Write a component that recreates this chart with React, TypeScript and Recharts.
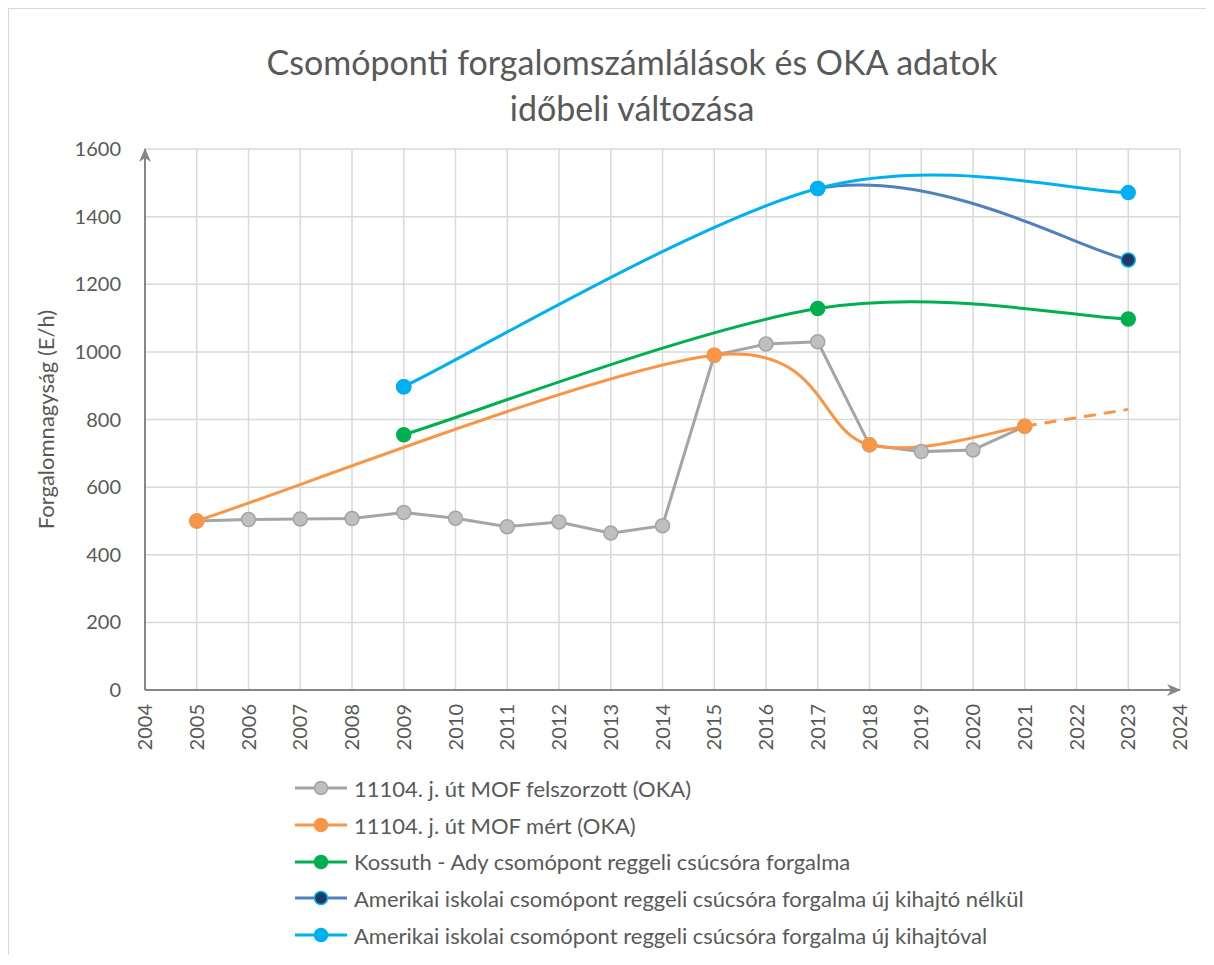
import { LineChart, Line, XAxis, YAxis, CartesianGrid, Legend } from 'recharts';

const FONT = "Lato, 'Open Sans', sans-serif";
const TEXT = '#595959';
const AXIS = '#868686';

// ---- data ----
const years = [2005, 2006, 2007, 2008, 2009, 2010, 2011, 2012, 2013, 2014, 2015, 2016, 2017, 2018, 2019, 2020, 2021, 2022, 2023];
const mofFelszorzott = [500, 504, 506, 507, 525, 508, 483, 497, 464, 486, 990, 1023, 1030, 725, 705, 710, 780, null, null];
const mofMert = [500, null, null, null, null, null, null, null, null, null, 990, null, null, 725, null, null, 780, null, null];
const mofMertTrend = [null, null, null, null, null, null, null, null, null, null, null, null, null, null, null, null, 780, null, 830];
const kossuthAdy = [null, null, null, null, 755, null, null, null, null, null, null, null, 1128, null, null, null, null, null, 1097];
const amerikaiNelkul = [null, null, null, null, 897, null, null, null, null, null, null, null, 1483, null, null, null, null, null, 1272];
const amerikaiVal = [null, null, null, null, 897, null, null, null, null, null, null, null, 1483, null, null, null, null, null, 1471];

const xTicks = [2004, 2005, 2006, 2007, 2008, 2009, 2010, 2011, 2012, 2013, 2014, 2015, 2016, 2017, 2018, 2019, 2020, 2021, 2022, 2023, 2024];
const yTicks = [0, 200, 400, 600, 800, 1000, 1200, 1400, 1600];

const data = years.map((year, i) => ({
  year,
  felszorzott: mofFelszorzott[i],
  mert: mofMert[i],
  mertTrend: mofMertTrend[i],
  kossuth: kossuthAdy[i],
  nelkul: amerikaiNelkul[i],
  kihajtoval: amerikaiVal[i],
}));

// Excel-like smoothed line (Catmull-Rom with 1/6 control points)
function excelSmooth(skipFirst: boolean) {
  return (context: any) => {
    let pts: number[][] = [];
    return {
      areaStart() {},
      areaEnd() {},
      lineStart() { pts = []; },
      point(x: number, y: number) { pts.push([+x, +y]); },
      lineEnd() {
        const n = pts.length;
        if (!n) return;
        const from = skipFirst && n > 2 ? 1 : 0;
        context.moveTo(pts[from][0], pts[from][1]);
        for (let i = from; i < n - 1; i++) {
          const p0 = pts[Math.max(i - 1, 0)];
          const p1 = pts[i];
          const p2 = pts[i + 1];
          const p3 = pts[Math.min(i + 2, n - 1)];
          context.bezierCurveTo(
            p1[0] + (p2[0] - p0[0]) / 6, p1[1] + (p2[1] - p0[1]) / 6,
            p2[0] - (p3[0] - p1[0]) / 6, p2[1] - (p3[1] - p1[1]) / 6,
            p2[0], p2[1]
          );
        }
      },
    };
  };
}

const series = [
  { key: 'felszorzott', name: '11104. j. út MOF felszorzott (OKA)', color: '#A5A5A5', dotFill: '#BFBFBF', dotStroke: '#A5A5A5' },
  { key: 'mert', name: '11104. j. út MOF mért (OKA)', color: '#F79646', dotFill: '#F79646', dotStroke: '#F79646' },
  { key: 'kossuth', name: 'Kossuth - Ady csomópont reggeli csúcsóra forgalma', color: '#00B050', dotFill: '#00B050', dotStroke: '#00B050' },
  { key: 'nelkul', name: 'Amerikai iskolai csomópont reggeli csúcsóra forgalma új kihajtó nélkül', color: '#4F81BD', dotFill: '#203864', dotStroke: '#00B0F0' },
  { key: 'kihajtoval', name: 'Amerikai iskolai csomópont reggeli csúcsóra forgalma új kihajtóval', color: '#00B0F0', dotFill: '#00B0F0', dotStroke: '#00B0F0' },
];

const YearTick = ({ x, y, payload }: any) => (
  <text x={x} y={y} dy="0.35em" textAnchor="end" transform={`rotate(-90 ${x} ${y})`}
    fill={TEXT} fontSize={20} fontFamily={FONT}>
    {payload.value}
  </text>
);

const YLabel = ({ viewBox }: any) => {
  const cx = viewBox.x - 39;
  const cy = viewBox.y + viewBox.height / 2;
  return (
    <text x={cx} y={cy} dy="0.35em" textAnchor="middle" transform={`rotate(-90 ${cx} ${cy})`}
      fill={TEXT} fontSize={22} fontFamily={FONT}>
      Forgalomnagyság (E/h)
    </text>
  );
};

const LegendContent = () => (
  <div style={{ fontFamily: FONT, fontSize: 22, color: TEXT }}>
    {series.map((s) => (
      <div key={s.key} style={{ display: 'flex', alignItems: 'center', height: 36.7, whiteSpace: 'nowrap' }}>
        <svg width={54} height={20}>
          <line x1={1} x2={53} y1={10} y2={10} stroke={s.color} strokeWidth={3} />
          <circle cx={27} cy={10} r={6.5} fill={s.dotFill} stroke={s.dotStroke} strokeWidth={1.5} />
        </svg>
        <span style={{ marginLeft: 6 }}>{s.name}</span>
      </div>
    ))}
  </div>
);

export default function App() {
  return (
    <div style={{ position: 'relative', width: 1197, height: 946, borderLeft: '1px solid #D9D9D9', borderTop: '1px solid #D9D9D9', fontFamily: FONT, background: '#fff' }}>
      <svg width={0} height={0} style={{ position: 'absolute' }}>
        <defs>
          <marker id="axisArrow" viewBox="0 0 14 12" refX={13} refY={6} markerWidth={14} markerHeight={12}
            markerUnits="userSpaceOnUse" orient="auto-start-reverse">
            <path d="M0,0 L14,6 L0,12 L4,6 Z" fill={AXIS} />
          </marker>
        </defs>
      </svg>
      <div style={{ position: 'absolute', top: 30, left: 123, width: 1000, textAlign: 'center', fontSize: 34, lineHeight: '46px', color: TEXT }}>
        Csomóponti forgalomszámlálások és OKA adatok<br />időbeli változása
      </div>
      <LineChart width={1197} height={946} data={data} margin={{ top: 140, right: 26, bottom: 205, left: 76 }}>
        <CartesianGrid stroke="#D9D9D9" strokeWidth={1.5} />
        <XAxis type="number" dataKey="year" domain={[2004, 2024]} ticks={xTicks} interval={0}
          tickSize={0} tickMargin={14} tick={<YearTick />} height={60}
          axisLine={{ stroke: AXIS, strokeWidth: 2, markerEnd: 'url(#axisArrow)' }} />
        <YAxis type="number" domain={[0, 1600]} ticks={yTicks} interval={0} width={60}
          tickSize={0} tickMargin={24} tick={{ fill: TEXT, fontSize: 20, fontFamily: FONT }}
          axisLine={{ stroke: AXIS, strokeWidth: 2, markerStart: 'url(#axisArrow)' }}
          label={<YLabel />} />
        <Legend layout="vertical" align="center" verticalAlign="middle" content={<LegendContent />}
          wrapperStyle={{ left: 285, top: 761, width: 900 }} />
        <Line dataKey="felszorzott" name={series[0].name} type="linear" stroke={series[0].color} strokeWidth={3}
          dot={{ r: 7, fill: series[0].dotFill, stroke: series[0].dotStroke, strokeWidth: 1.5 }}
          activeDot={false} isAnimationActive={false} />
        <Line dataKey="mertTrend" type="linear" stroke="#F79646" strokeWidth={3} strokeDasharray="12 8"
          dot={false} activeDot={false} connectNulls legendType="none" isAnimationActive={false} />
        <Line dataKey="mert" name={series[1].name} type={excelSmooth(false) as any} stroke={series[1].color} strokeWidth={3}
          dot={{ r: 7, fill: series[1].dotFill, stroke: series[1].dotStroke, strokeWidth: 1.5 }}
          activeDot={false} connectNulls isAnimationActive={false} />
        <Line dataKey="kossuth" name={series[2].name} type={excelSmooth(false) as any} stroke={series[2].color} strokeWidth={3}
          dot={{ r: 7, fill: series[2].dotFill, stroke: series[2].dotStroke, strokeWidth: 1.5 }}
          activeDot={false} connectNulls isAnimationActive={false} />
        <Line dataKey="nelkul" name={series[3].name} type={excelSmooth(true) as any} stroke={series[3].color} strokeWidth={3}
          dot={{ r: 7, fill: series[3].dotFill, stroke: series[3].dotStroke, strokeWidth: 1.5 }}
          activeDot={false} connectNulls isAnimationActive={false} />
        <Line dataKey="kihajtoval" name={series[4].name} type={excelSmooth(false) as any} stroke={series[4].color} strokeWidth={3}
          dot={{ r: 7, fill: series[4].dotFill, stroke: series[4].dotStroke, strokeWidth: 1.5 }}
          activeDot={false} connectNulls isAnimationActive={false} />
      </LineChart>
    </div>
  );
}
